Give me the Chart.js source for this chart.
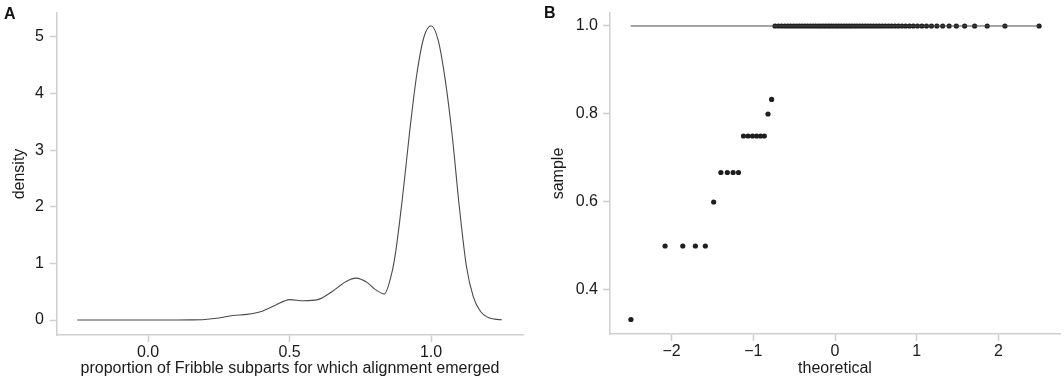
<!DOCTYPE html>
<html>
<head>
<meta charset="utf-8">
<script src="https://cdn.jsdelivr.net/npm/chart.js@4/dist/chart.umd.min.js"></script>
<style>
  html, body { margin: 0; padding: 0; background: #fff; }
  body { width: 1064px; height: 390px; position: relative; overflow: hidden; font-family: "Liberation Sans", Arial, sans-serif; }
  .panel { position: absolute; top: 0; height: 390px; }
  #wrapA { left: 0; width: 530px; }
  #wrapB { left: 530px; width: 534px; }
  .tag { position: absolute; font-weight: bold; font-size: 16px; line-height: 16px; color: #111; }
</style>
</head>
<body>
<div class="panel" id="wrapA"><canvas id="densityChart"></canvas></div>
<div class="panel" id="wrapB"><canvas id="qqChart"></canvas></div>
<div class="tag" style="left:4px;top:6px;">A</div>
<div class="tag" style="left:544px;top:5px;">B</div>
<script>
// Panel A: density of proportion
const densityX = [-0.25, -0.2, -0.1, 0, 0.1, 0.15, 0.2, 0.25, 0.3, 0.35, 0.4, 0.45, 0.5, 0.55, 0.6,
  0.65, 0.7, 0.735, 0.775, 0.8, 0.835, 0.86, 0.875, 0.9, 0.925, 0.95, 0.975, 1.0, 1.025, 1.05,
  1.075, 1.1, 1.125, 1.15, 1.175, 1.2, 1.225, 1.25];
const densityY = [0, 0, 0, 0, 0, 0.002, 0.01, 0.035, 0.08, 0.1, 0.15, 0.26, 0.36, 0.34, 0.36,
  0.5, 0.68, 0.74, 0.66, 0.55, 0.46, 0.8, 1.2, 2.2, 3.35, 4.35, 5.0, 5.2, 4.95, 4.25,
  3.25, 2.0, 0.95, 0.4, 0.15, 0.05, 0.015, 0.005];
const densityTicksX = [0, 0.5, 1.0];
const densityTicksY = [0, 1, 2, 3, 4, 5];

// Panel B: normal QQ plot
const qqTheoretical = [
  -2.498, -2.080, -1.863, -1.709, -1.587, -1.485, -1.397, -1.318, -1.247, -1.181,
  -1.120, -1.064, -1.010, -0.959, -0.911, -0.865, -0.820, -0.776,
  -0.735, -0.694, -0.655, -0.616, -0.579, -0.543, -0.507, -0.471, -0.436, -0.402, -0.368,
  -0.335, -0.302, -0.269, -0.237, -0.204, -0.173, -0.141, -0.110, -0.078, -0.047, -0.016,
  0.016, 0.047, 0.078, 0.110, 0.141, 0.173, 0.204, 0.237, 0.269, 0.302, 0.335,
  0.368, 0.402, 0.436, 0.471, 0.507, 0.543, 0.579, 0.616, 0.655, 0.694, 0.735,
  0.776, 0.820, 0.865, 0.911, 0.959, 1.010, 1.064, 1.120, 1.181, 1.247, 1.318,
  1.397, 1.485, 1.587, 1.709, 1.863, 2.080, 2.498];
const qqSample = [
  0.333, 0.5, 0.5, 0.5, 0.5, 0.6, 0.667, 0.667, 0.667, 0.667,
  0.75, 0.75, 0.75, 0.75, 0.75, 0.75, 0.8, 0.833,
  1, 1, 1, 1, 1, 1, 1, 1, 1, 1, 1, 1, 1, 1, 1, 1, 1, 1, 1, 1, 1, 1,
  1, 1, 1, 1, 1, 1, 1, 1, 1, 1, 1, 1, 1, 1, 1, 1, 1, 1, 1, 1, 1, 1,
  1, 1, 1, 1, 1, 1, 1, 1, 1, 1, 1, 1, 1, 1, 1, 1, 1, 1];
const refLineX = [-2.5, 2.5];
const refLineY = [1, 1];
const qqTicksX = [-2, -1, 0, 1, 2];
const qqTicksY = [0.4, 0.6, 0.8, 1.0];

const TEXT = '#1a1a1a';
const AXIS = '#cfcfcf';
const FONT = '"Liberation Sans", Arial, sans-serif';

const toPoints = (xs, ys) => xs.map((x, i) => ({ x, y: ys[i] }));
const minus = (v) => String(v).replace('-', '\u2212');

function axis(opts) {
  return {
    type: 'linear',
    min: opts.min,
    max: opts.max,
    border: { display: true, color: AXIS, width: 1.5 },
    grid: { drawOnChartArea: false, drawTicks: true, tickLength: 7, tickColor: AXIS, tickWidth: 1.5 },
    ticks: {
      color: TEXT,
      font: { family: FONT, size: 16 },
      padding: opts.tickPad,
      maxRotation: 0,
      callback: opts.fmt
    },
    afterBuildTicks: (s) => { s.ticks = opts.ticks.map(v => ({ value: v })); },
    afterFit: (s) => {
      if (opts.width) s.width = opts.width;
      if (opts.height) s.height = opts.height;
      s.paddingLeft = 0; s.paddingRight = 0; s.paddingTop = 0; s.paddingBottom = 0;
    },
    title: {
      display: true,
      text: opts.title,
      color: TEXT,
      font: { family: FONT, size: 16 },
      padding: opts.titlePad
    }
  };
}

const common = {
  responsive: true,
  maintainAspectRatio: false,
  animation: false,
  plugins: { legend: { display: false }, tooltip: { enabled: false } }
};

new Chart(document.getElementById('densityChart'), {
  type: 'line',
  data: {
    datasets: [{
      data: toPoints(densityX, densityY),
      borderColor: '#4a4a4a',
      borderWidth: 1.1,
      pointRadius: 0,
      cubicInterpolationMode: 'monotone',
      fill: false
    }]
  },
  options: {
    ...common,
    layout: { padding: { top: 13, right: 7, left: 0, bottom: 0 } },
    scales: {
      x: axis({ min: -0.3216, max: 1.325, ticks: densityTicksX, fmt: (v) => Number(v).toFixed(1),
        height: 55, tickPad: 1, title: 'proportion of Fribble subparts for which alignment emerged', titlePad: { bottom: 12 } }),
      y: axis({ min: -0.265, max: 5.424, ticks: densityTicksY, fmt: (v) => String(v),
        width: 57, tickPad: 6, title: 'density', titlePad: { top: 10 } })
    }
  }
});

new Chart(document.getElementById('qqChart'), {
  type: 'scatter',
  data: {
    datasets: [
      {
        data: toPoints(refLineX, refLineY),
        showLine: true,
        borderColor: '#4a4a4a',
        borderWidth: 1,
        pointRadius: 0
      },
      {
        data: toPoints(qqTheoretical, qqSample),
        backgroundColor: '#1e1e1e',
        borderColor: '#1e1e1e',
        borderWidth: 0,
        pointRadius: 2.6
      }
    ]
  },
  options: {
    ...common,
    layout: { padding: { top: 13, right: 1, left: 0, bottom: 0 } },
    scales: {
      x: axis({ min: -2.754, max: 2.754, ticks: qqTicksX, fmt: (v) => minus(v),
        height: 56, tickPad: 1, title: 'theoretical', titlePad: { bottom: 12 } }),
      y: axis({ min: 0.30, max: 1.0295, ticks: qqTicksY, fmt: (v) => Number(v).toFixed(1),
        width: 80, tickPad: 5, title: 'sample', titlePad: { top: 19 } })
    }
  }
});
</script>
</body>
</html>
